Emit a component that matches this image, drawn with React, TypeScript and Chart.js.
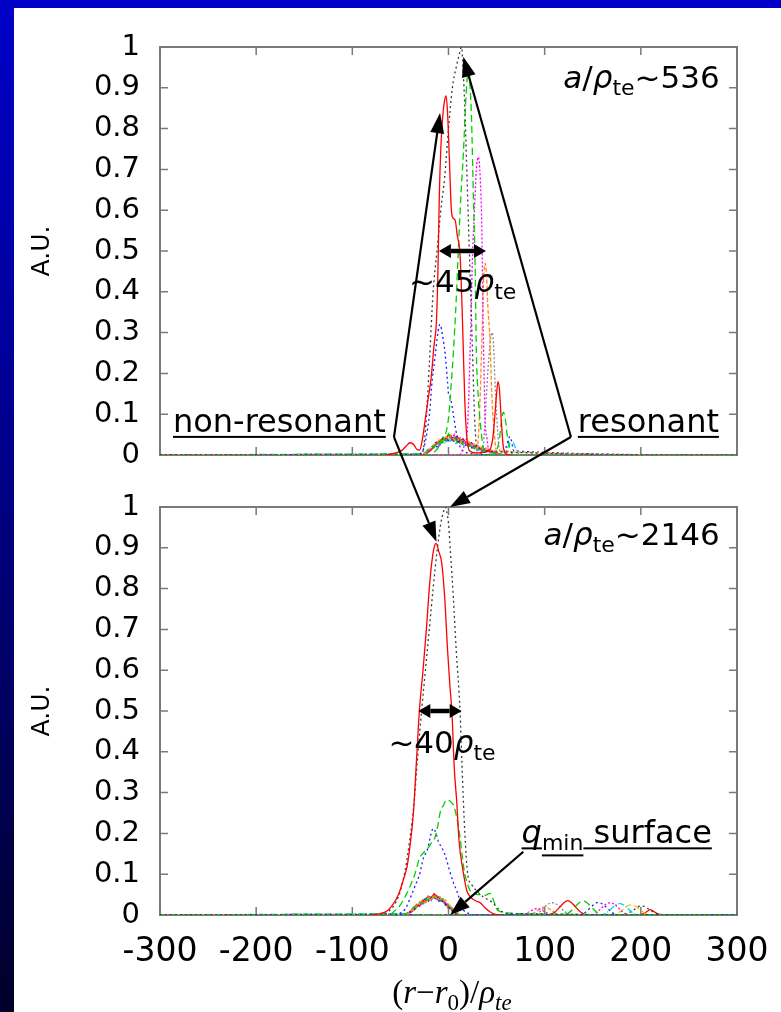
import React, { useEffect, useRef } from 'react';
import { Chart, registerables } from 'chart.js';

Chart.register(...registerables);

const W = 781;
const H = 1012;
const SANS = "'DejaVu Sans', 'Liberation Sans', Arial, sans-serif";
const SERIF = "'Liberation Serif', 'DejaVu Serif', 'Times New Roman', serif";

// ---------- axis ticks ----------
const xTicks = [-300, -200, -100, 0, 100, 200, 300];
const xTickLabels = ['-300', '-200', '-100', '0', '100', '200', '300'];
const yTicks = [0, 0.1, 0.2, 0.3, 0.4, 0.5, 0.6, 0.7, 0.8, 0.9, 1];
const yTickLabels = ['0', '0.1', '0.2', '0.3', '0.4', '0.5', '0.6', '0.7', '0.8', '0.9', '1'];

// ---------- top panel (a/rho_te ~ 536) ----------
const topRedX = [-65, -55, -48, -44, -40, -36, -33, -30, -27, -24, -21, -18, -15, -12.5, -11, -9.5, -8, -6, -4, -2.5, -1, 1, 3, 5, 7, 9, 12, 14, 15.5, 17, 19, 22, 30, 42, 46, 48, 50, 51.5, 53, 55, 57, 60, 66];
const topRedY = [0, 0.005, 0.012, 0.022, 0.03, 0.025, 0.014, 0.012, 0.04, 0.09, 0.14, 0.19, 0.27, 0.33, 0.45, 0.64, 0.75, 0.83, 0.87, 0.88, 0.84, 0.72, 0.6, 0.58, 0.575, 0.54, 0.49, 0.37, 0.25, 0.13, 0.045, 0.01, 0.005, 0.01, 0.04, 0.09, 0.15, 0.18, 0.16, 0.08, 0.02, 0.003, 0];
const topBlackX = [-300, -28, -24, -20, -16, -12, -8, -4, 0, 4, 8, 11, 13.5, 15.5, 17, 19, 21, 23, 25, 27, 30, 300];
const topBlackY = [0, 0, 0.06, 0.22, 0.4, 0.5, 0.6, 0.68, 0.8, 0.9, 0.95, 0.98, 1.0, 0.93, 0.85, 0.7, 0.55, 0.4, 0.25, 0.1, 0.01, 0];
const topGreenX = [-300, -20, -10, -5, 0, 3, 5, 8, 10, 13, 15.5, 18, 20.5, 22.5, 24, 26, 27.5, 29, 31, 33, 36, 40, 300];
const topGreenY = [0, 0, 0.02, 0.04, 0.09, 0.18, 0.25, 0.38, 0.49, 0.64, 0.74, 0.87, 0.94, 0.9, 0.82, 0.62, 0.49, 0.25, 0.14, 0.08, 0.02, 0, 0];
const topMagentaX = [-300, 10, 16, 20, 23, 25, 27, 29, 31, 33, 34.5, 36, 37, 38, 40, 43, 300];
const topMagentaY = [0, 0, 0.02, 0.08, 0.3, 0.49, 0.6, 0.7, 0.73, 0.68, 0.57, 0.33, 0.2, 0.09, 0.04, 0, 0];
const topOrangeX = [-300, 20, 28, 31, 33, 35, 36.5, 38, 39.5, 41, 43, 45, 47, 50, 300];
const topOrangeY = [0, 0, 0.01, 0.04, 0.15, 0.3, 0.43, 0.47, 0.44, 0.36, 0.29, 0.15, 0.07, 0.01, 0];
const topGreyX = [-300, 30, 36, 38, 40, 42, 44, 45.5, 47, 48.5, 50, 52, 55, 300];
const topGreyY = [0, 0, 0.02, 0.08, 0.17, 0.24, 0.29, 0.3, 0.26, 0.17, 0.1, 0.03, 0, 0];
const topBlueX = [-300, -35, -27, -22.7, -19, -17.5, -14, -11, -8.8, -6, -3.6, -1, 0, 2, 5, 8.5, 12, 20, 56, 60, 64, 68, 300];
const topBlueY = [0, 0, 0.01, 0.05, 0.12, 0.17, 0.24, 0.3, 0.32, 0.29, 0.25, 0.18, 0.15, 0.14, 0.1, 0.05, 0.02, 0.005, 0, 0.02, 0.045, 0.01, 0];
const topGreen2X = [-300, 46, 50, 53, 55, 57, 59, 61, 64, 68, 300];
const topGreen2Y = [0, 0, 0.01, 0.04, 0.08, 0.105, 0.09, 0.05, 0.015, 0, 0];
const topCyanX = [-300, 58, 62, 66, 70, 74, 300];
const topCyanY = [0, 0, 0.02, 0.035, 0.015, 0, 0];

// low-level scribble near the base (top panel)
const noiseTopXa = [-300, -27, -24, -21, -18, -15, -12, -9, -6, -3, 0, 3, 6, 9, 12, 15, 18, 21, 24, 27, 30, 33, 36, 39, 42, 45, 48, 51, 54, 57, 300];
const noiseTop1 = [0, 0, 0.004, 0.01, 0.018, 0.026, 0.03, 0.038, 0.033, 0.045, 0.04, 0.048, 0.036, 0.042, 0.03, 0.037, 0.028, 0.033, 0.022, 0.027, 0.018, 0.022, 0.014, 0.017, 0.01, 0.012, 0.007, 0.005, 0.003, 0, 0];
const noiseTop2 = [0, 0.002, 0.006, 0.014, 0.022, 0.018, 0.034, 0.028, 0.046, 0.034, 0.052, 0.04, 0.044, 0.03, 0.038, 0.025, 0.03, 0.02, 0.026, 0.016, 0.02, 0.012, 0.016, 0.008, 0.011, 0.006, 0.004, 0.005, 0.002, 0, 0];
const noiseTop3 = [0, 0, 0.003, 0.008, 0.016, 0.024, 0.02, 0.036, 0.03, 0.042, 0.035, 0.044, 0.032, 0.04, 0.028, 0.034, 0.024, 0.03, 0.018, 0.024, 0.015, 0.018, 0.011, 0.013, 0.008, 0.009, 0.005, 0.003, 0.001, 0, 0];
const noiseTop4 = [0, 0.001, 0.005, 0.009, 0.012, 0.02, 0.028, 0.024, 0.04, 0.036, 0.046, 0.038, 0.05, 0.034, 0.042, 0.03, 0.036, 0.026, 0.03, 0.02, 0.024, 0.016, 0.018, 0.012, 0.014, 0.008, 0.01, 0.004, 0.002, 0, 0];
const noiseTopRedX = [-27, -24, -21, -18, -15, -12, -9, -6, -3, 0, 3, 6, 9, 12, 15, 18, 21, 24, 27, 30, 33, 36, 39, 42, 45, 48, 51, 54, 57];
const noiseTopRed = [0, 0.002, 0.007, 0.014, 0.02, 0.03, 0.034, 0.042, 0.038, 0.05, 0.044, 0.04, 0.046, 0.034, 0.04, 0.03, 0.026, 0.03, 0.02, 0.022, 0.015, 0.017, 0.01, 0.012, 0.006, 0.007, 0.003, 0.001, 0];
const noiseTopXb = [-300, -25.5, -22.5, -19.5, -16.5, -13.5, -10.5, -7.5, -4.5, -1.5, 1.5, 4.5, 7.5, 10.5, 13.5, 16.5, 19.5, 22.5, 25.5, 28.5, 31.5, 34.5, 37.5, 40.5, 43.5, 46.5, 49.5, 52.5, 55.5, 300];
const noiseTop6 = [0, 0.003, 0.008, 0.015, 0.02, 0.028, 0.024, 0.035, 0.03, 0.04, 0.034, 0.038, 0.028, 0.034, 0.024, 0.03, 0.02, 0.025, 0.016, 0.02, 0.012, 0.015, 0.01, 0.012, 0.007, 0.008, 0.004, 0.002, 0, 0];
const noiseTop7 = [0, 0.002, 0.006, 0.012, 0.022, 0.03, 0.036, 0.032, 0.044, 0.04, 0.048, 0.036, 0.042, 0.032, 0.036, 0.026, 0.03, 0.022, 0.024, 0.016, 0.018, 0.012, 0.014, 0.008, 0.009, 0.005, 0.003, 0.001, 0, 0];
const noiseTop8 = [0, 0.001, 0.004, 0.01, 0.016, 0.022, 0.03, 0.026, 0.038, 0.044, 0.036, 0.046, 0.04, 0.03, 0.036, 0.028, 0.024, 0.028, 0.02, 0.022, 0.014, 0.016, 0.01, 0.011, 0.006, 0.007, 0.003, 0.002, 0, 0];
const noiseTop9 = [0, 0.002, 0.005, 0.011, 0.018, 0.025, 0.02, 0.032, 0.04, 0.034, 0.042, 0.048, 0.034, 0.04, 0.03, 0.034, 0.024, 0.026, 0.018, 0.02, 0.013, 0.015, 0.009, 0.01, 0.006, 0.005, 0.003, 0.001, 0, 0];

// ---------- bottom panel (a/rho_te ~ 2146) ----------
const botRedX = [-80, -72, -64, -58, -52, -47, -43, -40, -36.5, -33.5, -30.3, -26.5, -23, -20, -17.5, -15, -13, -10, -7, -4, -1, 1.5, 3.5, 6, 8.5, 11, 15, 19, 22.5, 28, 33, 38, 43, 48, 55];
const botRedY = [0, 0.003, 0.01, 0.025, 0.05, 0.086, 0.12, 0.17, 0.25, 0.37, 0.5, 0.6, 0.7, 0.8, 0.862, 0.9, 0.911, 0.89, 0.862, 0.78, 0.65, 0.56, 0.5, 0.36, 0.28, 0.18, 0.11, 0.06, 0.045, 0.035, 0.03, 0.018, 0.008, 0.002, 0];
const botBlackX = [-300, -70, -62, -55, -50, -45, -40, -36, -32, -28, -24, -20, -16, -12, -8, -5, -3.5, -2, 0, 2, 5, 8, 12, 14, 17, 20, 24, 29, 36, 46, 52, 60, 300];
const botBlackY = [0, 0, 0.01, 0.03, 0.06, 0.11, 0.19, 0.27, 0.39, 0.5, 0.6, 0.7, 0.8, 0.89, 0.96, 0.99, 1.0, 0.99, 0.96, 0.89, 0.78, 0.65, 0.5, 0.37, 0.2, 0.1, 0.075, 0.06, 0.045, 0.03, 0.015, 0.004, 0];
const botGreenX = [-300, -62, -57, -50, -44, -40, -35, -30, -25, -21, -18, -14, -11, -8.8, -5, -2, 1, 5, 8.5, 12, 14.5, 17, 20, 22.3, 26, 30, 33, 38, 43, 47, 50, 54, 60, 80, 300];
const botGreenY = [0, 0, 0.008, 0.025, 0.05, 0.07, 0.1, 0.14, 0.155, 0.165, 0.176, 0.19, 0.22, 0.25, 0.27, 0.282, 0.28, 0.27, 0.24, 0.19, 0.14, 0.1, 0.075, 0.06, 0.055, 0.05, 0.05, 0.048, 0.053, 0.035, 0.015, 0.008, 0.005, 0.003, 0];
const botBlueX = [-300, -55, -50, -45, -40, -35, -30, -26, -22, -18, -16, -13, -10.5, -7, -4, -2, 1, 5, 8.5, 12, 15.4, 20, 25, 300];
const botBlueY = [0, 0, 0.005, 0.015, 0.04, 0.07, 0.1, 0.14, 0.16, 0.2, 0.212, 0.2, 0.18, 0.165, 0.15, 0.135, 0.11, 0.08, 0.06, 0.035, 0.013, 0.005, 0, 0];

// small humps outside the q_min surface (bottom panel)
const humpGreyX = [-300, 88, 96, 102, 108, 114, 120, 128, 300];
const humpGreyY = [0, 0, 0.01, 0.024, 0.03, 0.024, 0.01, 0, 0];
const humpMag1X = [-300, 76, 84, 92, 100, 108, 300];
const humpMag1Y = [0, 0, 0.008, 0.016, 0.008, 0, 0];
const humpOrangeX = [-300, 84, 92, 100, 108, 116, 300];
const humpOrangeY = [0, 0, 0.01, 0.02, 0.01, 0, 0];
const humpRedX = [104, 110, 116, 120, 124, 128, 132, 138, 144];
const humpRedY = [0, 0.006, 0.02, 0.03, 0.035, 0.03, 0.02, 0.006, 0];
const humpGreenX = [-300, 120, 126, 132, 136, 140, 144, 148, 154, 160, 300];
const humpGreenY = [0, 0, 0.007, 0.021, 0.03, 0.034, 0.03, 0.021, 0.007, 0, 0];
const humpBlueX = [-300, 136, 142, 148, 152, 156, 160, 164, 170, 176, 300];
const humpBlueY = [0, 0, 0.006, 0.019, 0.027, 0.031, 0.027, 0.019, 0.006, 0, 0];
const humpMag2X = [-300, 148, 154, 160, 164, 168, 172, 176, 182, 188, 300];
const humpMag2Y = [0, 0, 0.006, 0.019, 0.027, 0.03, 0.027, 0.019, 0.006, 0, 0];
const humpCyanX = [-300, 158, 164, 170, 174, 178, 182, 186, 192, 198, 300];
const humpCyanY = [0, 0, 0.005, 0.017, 0.025, 0.028, 0.025, 0.017, 0.005, 0, 0];
const humpYellowX = [-300, 170, 176, 182, 186, 190, 194, 198, 204, 210, 300];
const humpYellowY = [0, 0, 0.005, 0.015, 0.022, 0.025, 0.022, 0.015, 0.005, 0, 0];
const humpBlackX = [-300, 181, 187, 193, 197, 201, 205, 209, 215, 221, 300];
const humpBlackY = [0, 0, 0.005, 0.013, 0.02, 0.022, 0.02, 0.013, 0.005, 0, 0];
const humpRed2X = [198, 204, 208, 210, 212, 216, 222];
const humpRed2Y = [0, 0.005, 0.011, 0.013, 0.011, 0.005, 0];

// low-level scribble near the q_min surface (bottom panel)
const noiseBotXa = [-300, -45, -42, -39, -36, -33, -30, -27, -24, -21, -18, -15, -12, -9, -6, -3, 0, 3, 6, 9, 12, 300];
const noiseBot1 = [0, 0, 0.004, 0.01, 0.016, 0.024, 0.03, 0.036, 0.03, 0.044, 0.038, 0.048, 0.04, 0.044, 0.034, 0.036, 0.026, 0.02, 0.012, 0.006, 0, 0];
const noiseBot2 = [0, 0.002, 0.006, 0.012, 0.02, 0.018, 0.032, 0.028, 0.04, 0.036, 0.05, 0.042, 0.046, 0.036, 0.04, 0.03, 0.024, 0.016, 0.01, 0.004, 0, 0];
const noiseBot3 = [0, 0.001, 0.003, 0.008, 0.014, 0.022, 0.026, 0.034, 0.04, 0.034, 0.044, 0.038, 0.042, 0.03, 0.034, 0.024, 0.02, 0.012, 0.008, 0.003, 0, 0];
const noiseBot4 = [0, 0, 0.004, 0.007, 0.012, 0.02, 0.028, 0.024, 0.038, 0.042, 0.036, 0.05, 0.038, 0.044, 0.032, 0.03, 0.022, 0.018, 0.01, 0.005, 0.001, 0];
const noiseBotRedX = [-45, -42, -39, -36, -33, -30, -27, -24, -21, -18, -15, -12, -9, -6, -3, 0, 3, 6, 9, 12];
const noiseBotRed = [0.001, 0.005, 0.01, 0.018, 0.026, 0.022, 0.036, 0.032, 0.046, 0.04, 0.052, 0.046, 0.04, 0.036, 0.028, 0.022, 0.014, 0.008, 0.003, 0];
const noiseBotXb = [-300, -43.5, -40.5, -37.5, -34.5, -31.5, -28.5, -25.5, -22.5, -19.5, -16.5, -13.5, -10.5, -7.5, -4.5, -1.5, 1.5, 4.5, 7.5, 10.5, 300];
const noiseBot6 = [0, 0.003, 0.007, 0.012, 0.02, 0.026, 0.03, 0.038, 0.034, 0.044, 0.04, 0.046, 0.036, 0.04, 0.03, 0.026, 0.018, 0.012, 0.005, 0, 0];
const noiseBot7 = [0, 0.002, 0.005, 0.01, 0.016, 0.024, 0.032, 0.028, 0.042, 0.038, 0.048, 0.04, 0.044, 0.034, 0.032, 0.024, 0.016, 0.01, 0.004, 0, 0];
const noiseBot8 = [0, 0.001, 0.004, 0.009, 0.014, 0.02, 0.026, 0.034, 0.04, 0.036, 0.046, 0.042, 0.038, 0.04, 0.028, 0.022, 0.014, 0.008, 0.003, 0, 0];
const noiseBot9 = [0, 0.002, 0.006, 0.011, 0.018, 0.024, 0.03, 0.026, 0.036, 0.042, 0.038, 0.044, 0.04, 0.032, 0.03, 0.02, 0.012, 0.007, 0.002, 0, 0];

// ---------- styles ----------
const STY: Record<string, { c: string; d: number[] }> = {
  red: { c: '#ff0000', d: [] },
  green: { c: '#00d000', d: [7, 4] },
  blue: { c: '#1a1aff', d: [2, 3] },
  magenta: { c: '#ff00ff', d: [2, 2] },
  orange: { c: '#ff8a1c', d: [4, 2] },
  black: { c: '#3a3a3a', d: [2, 3] },
  grey: { c: '#8a8a8a', d: [2, 2] },
  cyan: { c: '#00d0f0', d: [6, 2, 1, 2] },
  yellow: { c: '#e0d000', d: [6, 3] },
  purple: { c: '#8a2be2', d: [3, 3] },
};

type Series = { x: number[]; y: number[]; s: string; w?: number; noise?: boolean };

const topSeries: Series[] = [
  { x: topRedX, y: topRedY, s: 'red' },
  { x: topBlackX, y: topBlackY, s: 'black' },
  { x: topGreenX, y: topGreenY, s: 'green' },
  { x: topMagentaX, y: topMagentaY, s: 'magenta' },
  { x: topOrangeX, y: topOrangeY, s: 'orange' },
  { x: topGreyX, y: topGreyY, s: 'grey' },
  { x: topBlueX, y: topBlueY, s: 'blue' },
  { x: topGreen2X, y: topGreen2Y, s: 'green' },
  { x: topCyanX, y: topCyanY, s: 'cyan' },
  { x: noiseTopXa, y: noiseTop1, s: 'orange', noise: true },
  { x: noiseTopXa, y: noiseTop2, s: 'green', noise: true },
  { x: noiseTopXa, y: noiseTop3, s: 'blue', noise: true },
  { x: noiseTopXa, y: noiseTop4, s: 'magenta', noise: true },
  { x: noiseTopRedX, y: noiseTopRed, s: 'red', noise: true },
  { x: noiseTopXb, y: noiseTop6, s: 'cyan', noise: true },
  { x: noiseTopXb, y: noiseTop7, s: 'black', noise: true },
  { x: noiseTopXb, y: noiseTop8, s: 'yellow', noise: true },
  { x: noiseTopXb, y: noiseTop9, s: 'purple', noise: true },
];

const botSeries: Series[] = [
  { x: botRedX, y: botRedY, s: 'red' },
  { x: botBlackX, y: botBlackY, s: 'black' },
  { x: botGreenX, y: botGreenY, s: 'green' },
  { x: botBlueX, y: botBlueY, s: 'blue' },
  { x: humpRedX, y: humpRedY, s: 'red' },
  { x: humpGreenX, y: humpGreenY, s: 'green' },
  { x: humpBlueX, y: humpBlueY, s: 'blue' },
  { x: humpMag2X, y: humpMag2Y, s: 'magenta' },
  { x: humpCyanX, y: humpCyanY, s: 'cyan' },
  { x: humpYellowX, y: humpYellowY, s: 'yellow' },
  { x: humpBlackX, y: humpBlackY, s: 'black' },
  { x: humpRed2X, y: humpRed2Y, s: 'red' },
  { x: humpGreyX, y: humpGreyY, s: 'grey' },
  { x: humpMag1X, y: humpMag1Y, s: 'magenta' },
  { x: humpOrangeX, y: humpOrangeY, s: 'orange' },
  { x: noiseBotXa, y: noiseBot1, s: 'orange', noise: true },
  { x: noiseBotXa, y: noiseBot2, s: 'green', noise: true },
  { x: noiseBotXa, y: noiseBot3, s: 'blue', noise: true },
  { x: noiseBotXa, y: noiseBot4, s: 'magenta', noise: true },
  { x: noiseBotRedX, y: noiseBotRed, s: 'red', noise: true },
  { x: noiseBotXb, y: noiseBot6, s: 'cyan', noise: true },
  { x: noiseBotXb, y: noiseBot7, s: 'black', noise: true },
  { x: noiseBotXb, y: noiseBot8, s: 'yellow', noise: true },
  { x: noiseBotXb, y: noiseBot9, s: 'purple', noise: true },
];

// ---------- helpers ----------
const pts = (xs: number[], ys: number[]) => xs.map((x, i) => ({ x, y: ys[i] ?? 0 }));

const toDatasets = (list: Series[]) =>
  list.map((s) => ({
    data: pts(s.x, s.y),
    borderColor: STY[s.s].c,
    borderDash: STY[s.s].d,
    borderWidth: s.w ?? (s.noise ? 1.4 : 1.3),
    pointRadius: 0,
    fill: false,
    tension: 0,
    cubicInterpolationMode: s.noise ? 'default' : 'monotone',
  }));

type Run = { t: string; it?: boolean; sub?: boolean; ul?: boolean };

function runFont(r: Run, size: number, fam: string) {
  const s = r.sub ? Math.round(size * 0.7) : size;
  return `${r.it ? 'italic ' : ''}${s}px ${fam}`;
}

function drawRuns(ctx: CanvasRenderingContext2D, runs: Run[], x: number, y: number, size: number, fam: string, align: 'left' | 'right' | 'center') {
  ctx.save();
  ctx.textBaseline = 'alphabetic';
  ctx.textAlign = 'left';
  ctx.fillStyle = '#000';
  const widths = runs.map((r) => {
    ctx.font = runFont(r, size, fam);
    return ctx.measureText(r.t).width;
  });
  const total = widths.reduce((a, b) => a + b, 0);
  let cx = align === 'left' ? x : align === 'right' ? x - total : x - total / 2;
  runs.forEach((r, i) => {
    ctx.font = runFont(r, size, fam);
    const by = r.sub ? y + size * 0.22 : y;
    ctx.fillText(r.t, cx, by);
    if (r.ul) ctx.fillRect(cx, by + size * 0.13, widths[i], 2);
    cx += widths[i];
  });
  ctx.restore();
}

function arrow(ctx: CanvasRenderingContext2D, x1: number, y1: number, x2: number, y2: number, lw = 2.2, hl = 20, hw = 7) {
  const a = Math.atan2(y2 - y1, x2 - x1);
  const bx = x2 - hl * Math.cos(a);
  const by = y2 - hl * Math.sin(a);
  ctx.save();
  ctx.strokeStyle = '#000';
  ctx.fillStyle = '#000';
  ctx.lineWidth = lw;
  ctx.beginPath();
  ctx.moveTo(x1, y1);
  ctx.lineTo(bx, by);
  ctx.stroke();
  ctx.beginPath();
  ctx.moveTo(x2, y2);
  ctx.lineTo(bx + hw * Math.sin(a), by - hw * Math.cos(a));
  ctx.lineTo(bx - hw * Math.sin(a), by + hw * Math.cos(a));
  ctx.closePath();
  ctx.fill();
  ctx.restore();
}

function doubleArrow(ctx: CanvasRenderingContext2D, x1: number, x2: number, y: number) {
  const hl = 12;
  const hw = 7;
  ctx.save();
  ctx.fillStyle = '#000';
  ctx.strokeStyle = '#000';
  ctx.lineWidth = 4.5;
  ctx.beginPath();
  ctx.moveTo(x1 + hl, y);
  ctx.lineTo(x2 - hl, y);
  ctx.stroke();
  ctx.beginPath();
  ctx.moveTo(x1, y);
  ctx.lineTo(x1 + hl, y - hw);
  ctx.lineTo(x1 + hl, y + hw);
  ctx.closePath();
  ctx.fill();
  ctx.beginPath();
  ctx.moveTo(x2, y);
  ctx.lineTo(x2 - hl, y - hw);
  ctx.lineTo(x2 - hl, y + hw);
  ctx.closePath();
  ctx.fill();
  ctx.restore();
}

const framePlugin = {
  id: 'frameTicks',
  beforeDatasetsDraw(chart: any) {
    const { ctx, chartArea: a } = chart;
    const xs = chart.scales.x;
    const ys = chart.scales.y;
    ctx.save();
    ctx.strokeStyle = '#7a7a7a';
    ctx.lineWidth = 2;
    ctx.strokeRect(a.left, a.top, a.right - a.left, a.bottom - a.top);
    ctx.lineWidth = 1.5;
    ctx.beginPath();
    xs.ticks.forEach((t: any) => {
      const p = xs.getPixelForValue(t.value);
      ctx.moveTo(p, a.bottom);
      ctx.lineTo(p, a.bottom - 8);
      ctx.moveTo(p, a.top);
      ctx.lineTo(p, a.top + 8);
    });
    ys.ticks.forEach((t: any) => {
      const p = ys.getPixelForValue(t.value);
      ctx.moveTo(a.left, p);
      ctx.lineTo(a.left + 8, p);
      ctx.moveTo(a.right, p);
      ctx.lineTo(a.right - 8, p);
    });
    ctx.stroke();
    ctx.restore();
  },
};

function makeOptions(padTop: number, padBottom: number, showX: boolean) {
  return {
    animation: false,
    responsive: false,
    maintainAspectRatio: false,
    devicePixelRatio: 1,
    layout: { padding: { left: 0, right: 44, top: padTop, bottom: padBottom } },
    plugins: { legend: { display: false }, tooltip: { enabled: false }, title: { display: false } },
    scales: {
      x: {
        type: 'linear',
        min: -300,
        max: 300,
        afterBuildTicks: (s: any) => {
          s.ticks = xTicks.map((v) => ({ value: v }));
        },
        ticks: {
          display: showX,
          autoSkip: false,
          maxRotation: 0,
          color: '#000',
          padding: 18,
          font: { family: SANS, size: 33 },
          callback: (_v: any, i: number) => xTickLabels[i],
        },
        grid: { display: false, drawTicks: false },
        border: { display: false },
        afterFit: (s: any) => {
          s.height = showX ? 60 : 0;
          s.paddingLeft = 0;
          s.paddingRight = 0;
        },
      },
      y: {
        type: 'linear',
        min: 0,
        max: 1,
        afterBuildTicks: (s: any) => {
          s.ticks = yTicks.map((v) => ({ value: v }));
        },
        ticks: {
          autoSkip: false,
          color: '#000',
          padding: 20,
          font: { family: SANS, size: 29 },
          callback: (_v: any, i: number) => yTickLabels[i],
        },
        grid: { display: false, drawTicks: false },
        border: { display: false },
        title: {
          display: true,
          text: 'A.U.',
          color: '#000',
          font: { family: SANS, size: 25 },
          padding: { top: 27, bottom: 0 },
        },
        afterFit: (s: any) => {
          s.width = 160;
        },
      },
    },
  };
}

export default function App() {
  const topRef = useRef<HTMLCanvasElement>(null);
  const botRef = useRef<HTMLCanvasElement>(null);

  useEffect(() => {
    const topAnno = {
      id: 'topAnno',
      afterDatasetsDraw(chart: any) {
        const { ctx } = chart;
        const X = (v: number) => chart.scales.x.getPixelForValue(v);
        const Y = (v: number) => chart.scales.y.getPixelForValue(v);
        drawRuns(ctx, [{ t: 'a', it: true }, { t: '/' }, { t: 'ρ', it: true }, { t: 'te', sub: true }, { t: '~536' }], X(282), Y(0.9), 31, SANS, 'right');
        doubleArrow(ctx, X(-10), X(39), Y(0.5));
        drawRuns(ctx, [{ t: '~45' }, { t: 'ρ', it: true }, { t: 'te', sub: true }], X(-41), Y(0.4), 31, SANS, 'left');
        drawRuns(ctx, [{ t: 'non-resonant', ul: true }], X(-286.5), Y(0.057), 32, SANS, 'left');
        drawRuns(ctx, [{ t: 'resonant', ul: true }], X(134.5), Y(0.057), 32, SANS, 'left');
        arrow(ctx, X(-56.7), Y(0.044), X(-8.8), Y(0.838));
        arrow(ctx, X(127.3), Y(0.044), X(15.4), Y(0.976));
      },
    };
    const top = new Chart(topRef.current as HTMLCanvasElement, {
      type: 'line',
      data: { datasets: toDatasets(topSeries) as any },
      options: makeOptions(47, H - 455, false) as any,
      plugins: [framePlugin, topAnno],
    });

    const botAnno = {
      id: 'botAnno',
      afterDatasetsDraw(chart: any) {
        const { ctx, chartArea } = chart;
        const X = (v: number) => chart.scales.x.getPixelForValue(v);
        const Y = (v: number) => chart.scales.y.getPixelForValue(v);
        const TX = (v: number) => top.scales.x.getPixelForValue(v);
        const TY = (v: number) => top.scales.y.getPixelForValue(v);
        drawRuns(ctx, [{ t: 'a', it: true }, { t: '/' }, { t: 'ρ', it: true }, { t: 'te', sub: true }, { t: '~2146' }], X(282), Y(0.907), 31, SANS, 'right');
        doubleArrow(ctx, X(-31.4), X(13.7), Y(0.5));
        drawRuns(ctx, [{ t: '~40' }, { t: 'ρ', it: true }, { t: 'te', sub: true }], X(-62.5), Y(0.396), 31, SANS, 'left');
        drawRuns(ctx, [{ t: 'q', it: true, ul: true }, { t: 'min', sub: true, ul: true }, { t: ' surface', ul: true }], X(76), Y(0.176), 32, SANS, 'left');
        arrow(ctx, X(77.8), Y(0.155), X(1.6), Y(0));
        // arrows linking the two panels
        arrow(ctx, TX(-56.7), TY(0.044), X(-12.5), Y(0.915));
        arrow(ctx, TX(127.3), TY(0.044), X(1.5), Y(1.0));
        // x axis title
        drawRuns(
          ctx,
          [{ t: '(' }, { t: 'r', it: true }, { t: '−' }, { t: 'r', it: true }, { t: '0', sub: true }, { t: ')/' }, { t: 'ρ', it: true }, { t: 'te', sub: true, it: true }],
          X(3.6),
          chartArea.bottom + 88,
          33,
          SERIF,
          'center'
        );
      },
    };
    const bot = new Chart(botRef.current as HTMLCanvasElement, {
      type: 'line',
      data: { datasets: toDatasets(botSeries) as any },
      options: makeOptions(507, 37, true) as any,
      plugins: [framePlugin, botAnno],
    });

    return () => {
      bot.destroy();
      top.destroy();
    };
  }, []);

  const canvasStyle: React.CSSProperties = { position: 'absolute', left: 0, top: 0, width: W, height: H };
  return (
    <div
      style={{
        position: 'absolute',
        left: 0,
        top: 0,
        width: W,
        height: H,
        overflow: 'hidden',
        background: 'linear-gradient(to bottom, #0000c8 0%, #00009a 35%, #000060 70%, #00002a 100%)',
      }}
    >
      <div style={{ position: 'absolute', left: 14, top: 8, right: 0, bottom: 0, background: '#ffffff' }} />
      <canvas ref={topRef} width={W} height={H} style={canvasStyle} />
      <canvas ref={botRef} width={W} height={H} style={canvasStyle} />
    </div>
  );
}
